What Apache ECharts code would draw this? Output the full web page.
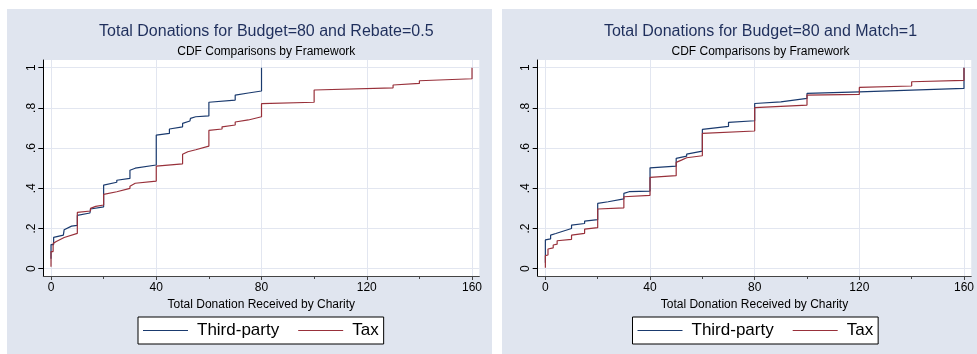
<!DOCTYPE html>
<html>
<head>
<meta charset="utf-8">
<script src="https://cdn.jsdelivr.net/npm/echarts@6/dist/echarts.min.js"></script>
<style>
  html, body { margin: 0; padding: 0; background: #ffffff; }
  #chart { width: 977px; height: 354px; }
</style>
</head>
<body>
<div id="chart"></div>
<script>
// Empirical CDFs of total donations, [donation, cumulative share]
const rebateThirdParty = [[0,0.05],[0,0.12],[1,0.12],[1,0.156],[4.7,0.167],[5,0.194],[7.8,0.212],[10,0.216],[10,0.265],[14.8,0.277],[15,0.297],[20,0.308],[20,0.416],[25,0.43],[25,0.44],[30,0.449],[30,0.49],[32,0.5],[40,0.516],[40,0.665],[45,0.673],[45,0.695],[50,0.706],[50,0.723],[52.8,0.735],[53,0.748],[55,0.756],[60,0.76],[60,0.828],[70,0.839],[70,0.864],[75,0.874],[75,0.88],[80,0.884],[80,1]];
const rebateTax = [[0,0.01],[0,0.085],[0.8,0.085],[0.8,0.126],[2,0.135],[2,0.143],[5,0.155],[10,0.176],[10,0.28],[15,0.287],[15,0.3],[17,0.31],[20,0.317],[20,0.37],[25,0.383],[25,0.391],[30,0.4],[30,0.41],[32,0.425],[40,0.436],[40,0.51],[50,0.522],[50,0.569],[52,0.582],[55,0.592],[60,0.61],[60,0.688],[65,0.695],[65,0.706],[70,0.715],[70,0.73],[75,0.74],[75,0.745],[80,0.756],[80,0.821],[100,0.828],[100,0.889],[130,0.9],[130,0.914],[140,0.922],[140,0.935],[160,0.945],[160,1]];
const matchThirdParty = [[0,0.03],[0,0.143],[2,0.148],[2,0.167],[4,0.175],[4,0.184],[10,0.2],[10,0.217],[15,0.225],[15,0.237],[20,0.244],[20,0.325],[24,0.333],[24,0.34],[30,0.347],[30,0.375],[32,0.383],[40,0.386],[40,0.502],[50,0.51],[50,0.549],[54,0.56],[54,0.57],[60,0.585],[60,0.693],[70,0.708],[70,0.728],[80,0.736],[80,0.822],[90,0.83],[90,0.837],[100,0.847],[100,0.872],[120,0.88],[160,0.897],[160,1]];
const matchTax = [[0,0.005],[0,0.065],[1,0.068],[1,0.098],[3,0.104],[3,0.118],[4.5,0.122],[4.5,0.139],[10,0.146],[10,0.167],[15,0.176],[15,0.197],[20,0.204],[20,0.297],[30,0.303],[30,0.358],[40,0.365],[40,0.454],[50,0.463],[50,0.529],[52,0.54],[54,0.552],[60,0.562],[60,0.673],[80,0.685],[80,0.801],[100,0.814],[100,0.864],[120,0.867],[120,0.902],[140,0.909],[140,0.93],[160,0.937],[160,1]];

const xMajorTicks = [0, 40, 80, 120, 160];
const xMinorTicks = [20, 60, 100, 140];
const yTicks = [0, 0.2, 0.4, 0.6, 0.8, 1];
const seriesNames = ['Third-party', 'Tax'];
const panelTitles = ['Total Donations for Budget=80 and Rebate=0.5', 'Total Donations for Budget=80 and Match=1'];
const subTitle = 'CDF Comparisons by Framework';
const xAxisTitle = 'Total Donation Received by Charity';

const FONT = '"Liberation Sans", Arial, sans-serif';
const NAVY = '#1a3a6e';
const MAROON = '#98303a';
const PANEL_BG = '#e0e5ef';

const panels = [
  { bg: [7, 9, 485, 345], grid: { left: 43.3, top: 60, width: 436, height: 216 }, legendLeft: 138, series: [rebateThirdParty, rebateTax] },
  { bg: [502, 9, 475, 345], grid: { left: 537.7, top: 60, width: 435.6, height: 216 }, legendLeft: 632.5, series: [matchThirdParty, matchTax] }
];

const fmtY = v => {
  const r = Math.round(v * 10) / 10;
  if (r === 0) return '0';
  if (r === 1) return '1';
  return String(r).replace(/^0/, '');
};

const option = {
  backgroundColor: '#ffffff',
  animation: false,
  textStyle: { fontFamily: FONT },
  graphic: panels.map(p => ({
    type: 'rect', z: -10, silent: true,
    shape: { x: p.bg[0], y: p.bg[1], width: p.bg[2], height: p.bg[3] },
    style: { fill: PANEL_BG }
  })),
  title: [],
  legend: [],
  grid: [],
  xAxis: [],
  yAxis: [],
  series: []
};

panels.forEach((p, i) => {
  const cx = p.grid.left + p.grid.width / 2;
  option.title.push({
    text: panelTitles[i], left: cx, top: 19, textAlign: 'center',
    textStyle: { fontFamily: FONT, fontSize: 16, fontWeight: 'normal', color: '#1f2f5c' }
  });
  option.title.push({
    text: subTitle, left: cx, top: 41, textAlign: 'center',
    textStyle: { fontFamily: FONT, fontSize: 12, fontWeight: 'normal', color: '#000' }
  });
  option.grid.push(Object.assign({ show: true, backgroundColor: '#ffffff', borderWidth: 0, containLabel: false }, p.grid));

  // main x axis with labels
  option.xAxis.push({
    type: 'value', gridIndex: i, position: 'bottom', min: -2.93, max: 162.77,
    name: xAxisTitle, nameLocation: 'middle', nameGap: 21,
    nameTextStyle: { fontFamily: FONT, fontSize: 12, color: '#000' },
    axisLine: { show: true, onZero: false, lineStyle: { color: '#444', width: 1 } },
    axisTick: { show: true, length: 4, customValues: xMajorTicks, lineStyle: { color: '#444' } },
    axisLabel: { customValues: xMajorTicks, fontFamily: FONT, fontSize: 12, color: '#000', margin: 6 },
    splitLine: { show: true, lineStyle: { color: '#e2e6f0', width: 1 } }
  });
  // minor x ticks, on the same bottom edge
  option.xAxis.push({
    type: 'value', gridIndex: i, position: 'bottom', min: -2.93, max: 162.77,
    axisLine: { show: false, onZero: false },
    axisTick: { show: true, length: 3, customValues: xMinorTicks, lineStyle: { color: '#444' } },
    axisLabel: { show: false },
    splitLine: { show: false }
  });
  option.yAxis.push({
    type: 'value', gridIndex: i, min: -0.0363, max: 1.0383,
    axisLine: { show: true, onZero: false, lineStyle: { color: '#000', width: 1 } },
    axisTick: { show: true, length: 5, customValues: yTicks, lineStyle: { color: '#000' } },
    axisLabel: { customValues: yTicks, rotate: 90, formatter: fmtY, fontFamily: FONT, fontSize: 12, color: '#000', margin: 6 },
    splitLine: { show: true, lineStyle: { color: '#e2e6f0', width: 1 } }
  });

  option.legend.push({
    data: seriesNames, left: p.legendLeft, top: 317,
    orient: 'horizontal', padding: [5, 5, 5, 5], itemGap: 19,
    itemWidth: 45, itemHeight: 1.2,
    backgroundColor: '#ffffff', borderColor: '#000', borderWidth: 1,
    textStyle: { fontFamily: FONT, fontSize: 17, color: '#000', padding: [0, 0, 0, 4] },
    icon: 'rect', selectedMode: false
  });

  [NAVY, MAROON].forEach((color, k) => {
    option.series.push({
      type: 'line', name: seriesNames[k],
      xAxisIndex: i * 2, yAxisIndex: i,
      data: p.series[k], showSymbol: false, symbol: 'none',
      lineStyle: { color, width: 1.2 }, itemStyle: { color },
      z: 3 + k
    });
  });
});

const chart = echarts.init(document.getElementById('chart'), null, { renderer: 'canvas' });
chart.setOption(option);
</script>
</body>
</html>
